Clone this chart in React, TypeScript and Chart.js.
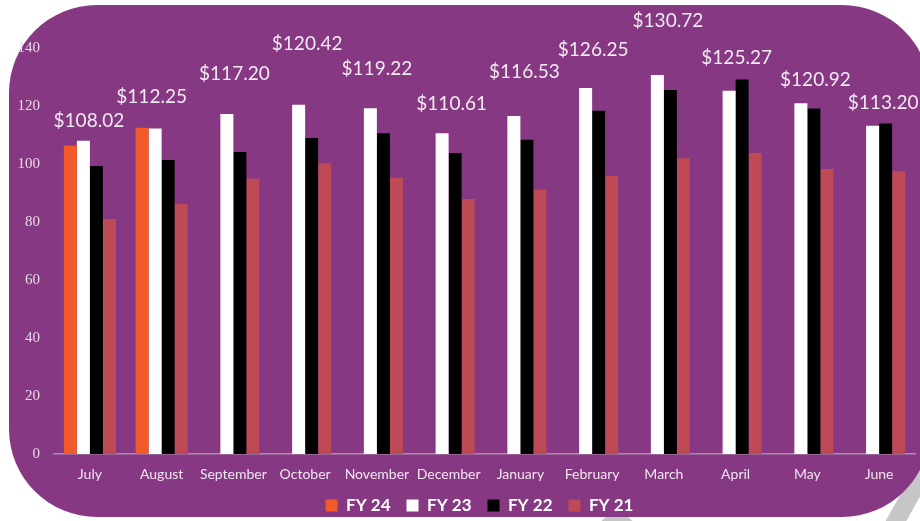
import React, { useEffect, useRef } from "react";
import { Chart, registerables } from "chart.js";

Chart.register(...registerables);

const months = ["July", "August", "September", "October", "November", "December", "January", "February", "March", "April", "May", "June"];
const fy24 = [106.3, 112.5, null, null, null, null, null, null, null, null, null, null];
const fy23 = [108.02, 112.25, 117.2, 120.42, 119.22, 110.61, 116.53, 126.25, 130.72, 125.27, 120.92, 113.2];
const fy22 = [99.3, 101.4, 104.1, 109.0, 110.6, 103.8, 108.4, 118.4, 125.5, 129.1, 119.1, 114.0];
const fy21 = [81.0, 86.3, 94.9, 100.3, 95.3, 87.9, 91.1, 95.9, 102.0, 103.8, 98.3, 97.5];
const yTicks = [0, 20, 40, 60, 80, 100, 120, 140];

// label placement (style only)
const labelLift = [20, 32, 40, 61, 39, 29, 44, 38, 54, 33, 23, 23];
const labelShiftX = [-1, -10, 1, 2, 0, 3, 4, 1, 4, 1, 8, 4];

const PURPLE = "#873882";

const backgroundPlugin = {
  id: "bgShape",
  beforeDraw(chart: any) {
    const ctx = chart.ctx;
    ctx.save();
    ctx.fillStyle = "#ffffff";
    ctx.fillRect(0, 0, chart.width, chart.height);
    ctx.strokeStyle = "#c6c6c6";
    ctx.lineWidth = 18;
    ctx.beginPath();
    ctx.moveTo(888, 535);
    ctx.lineTo(950, 425);
    ctx.stroke();
    ctx.fillStyle = "#c6c6c6";
    ctx.beginPath();
    ctx.moveTo(592, 530);
    ctx.lineTo(612, 511);
    ctx.lineTo(622, 511);
    ctx.lineTo(642, 530);
    ctx.closePath();
    ctx.fill();
    const x0 = 9, y0 = 5, x1 = 930, y1 = 517, r = 88;
    ctx.fillStyle = PURPLE;
    ctx.beginPath();
    ctx.moveTo(x0 + r, y0);
    ctx.lineTo(x1 - r, y0);
    ctx.arcTo(x1, y0, x1, y0 + r, r);
    ctx.lineTo(x1, y1 - r);
    ctx.arcTo(x1, y1, x1 - r, y1, r);
    ctx.lineTo(x0 + r, y1);
    ctx.arcTo(x0, y1, x0, y1 - r, r);
    ctx.lineTo(x0, y0 + r);
    ctx.arcTo(x0, y0, x0 + r, y0, r);
    ctx.closePath();
    ctx.fill();
    ctx.restore();
  },
};

const legendShiftPlugin = {
  id: "legendShift",
  afterLayout(chart: any) {
    const lg = chart.legend;
    if (lg) {
      lg.left += 20;
      lg.right += 20;
      lg.top -= 5;
      lg.bottom -= 5;
    }
  },
};

const valueLabelPlugin = {
  id: "valueLabels",
  afterDatasetsDraw(chart: any) {
    const ctx = chart.ctx;
    const meta = chart.getDatasetMeta(1);
    const xs = chart.scales.x;
    ctx.save();
    ctx.font = "19px Lato";
    ctx.fillStyle = "#f1eaf1";
    ctx.textAlign = "center";
    ctx.textBaseline = "middle";
    fy23.forEach((v, i) => {
      const bar = meta.data[i];
      if (!bar) return;
      const x = xs.getPixelForValue(i) + labelShiftX[i];
      const y = bar.y - labelLift[i];
      ctx.fillText("$" + v.toFixed(2), x, y);
    });
    ctx.restore();
  },
};

export default function App() {
  const canvasRef = useRef<HTMLCanvasElement | null>(null);

  useEffect(() => {
    if (!canvasRef.current) return;
    Chart.defaults.font.family = "Lato";
    const chart = new Chart(canvasRef.current, {
      type: "bar",
      data: {
        labels: months,
        datasets: [
          { label: "FY 24", data: fy24, backgroundColor: "#F15A29", borderWidth: 0 },
          { label: "FY 23", data: fy23, backgroundColor: "#FFFFFF", borderWidth: 0 },
          { label: "FY 22", data: fy22, backgroundColor: "#000000", borderWidth: 0 },
          { label: "FY 21", data: fy21, backgroundColor: "#BE4A55", borderWidth: 0 },
        ],
      },
      options: {
        responsive: false,
        animation: false,
        devicePixelRatio: 1,
        datasets: { bar: { categoryPercentage: 0.725, barPercentage: 1 } },
        layout: { padding: { top: 48, left: 4, right: 5, bottom: -8 } },
        scales: {
          x: {
            grid: { display: false, drawTicks: false },
            border: { display: true, color: "#ae8cab", width: 1.5 },
            afterFit: (scale: any) => {
              scale.height = 32;
            },
            ticks: {
              color: "#efe6ef",
              font: { size: 14, family: "Lato" },
              padding: 12,
              maxRotation: 0,
              minRotation: 0,
              autoSkip: false,
            },
          },
          y: {
            min: 0,
            max: 140,
            afterBuildTicks: (axis: any) => {
              axis.ticks = yTicks.map((v) => ({ value: v }));
            },
            afterFit: (scale: any) => {
              scale.width = 50;
            },
            grid: { display: false, drawTicks: false },
            border: { display: false },
            ticks: { color: "#e6dbe6", font: { size: 15, family: "'Liberation Serif'" }, padding: 14 },
          },
        },
        plugins: {
          legend: {
            position: "bottom",
            labels: {
              color: "#ffffff",
              boxWidth: 12,
              boxHeight: 12,
              padding: 16,
              font: { size: 17, weight: "bold", family: "Lato" },
            },
          },
          tooltip: { enabled: false },
        },
      },
      plugins: [backgroundPlugin, legendShiftPlugin, valueLabelPlugin],
    });
    return () => chart.destroy();
  }, []);

  return (
    <div style={{ position: "fixed", left: 0, top: 0, width: 920, height: 521 }}>
      <canvas ref={canvasRef} width={920} height={521} style={{ display: "block" }} />
    </div>
  );
}
